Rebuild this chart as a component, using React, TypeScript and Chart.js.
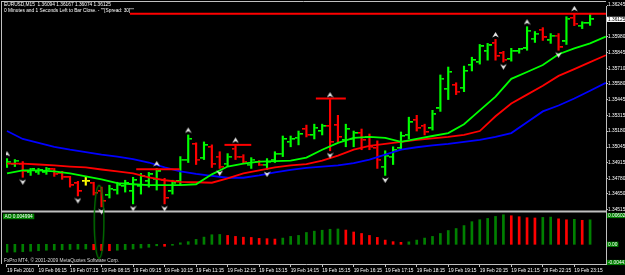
import React, { useEffect, useRef } from "react";
import { Chart, registerables } from "chart.js";
Chart.register(...registerables);

const SYMBOL = "EURUSD,M15";
const COMMENT = '0 Minutes and 1 Seconds Left to Bar Close. - ""[Spread: 30]""';
const COPYRIGHT = "FxPro MT4, \u00a9 2001-2009 MetaQuotes Software Corp.";

// M15 bars, 19 Feb 2010 05:15 .. 23:45
const opens = [
  1.3489, 1.34906, 1.34906, 1.34831, 1.34831, 1.34831, 1.34856, 1.34823, 1.3479, 1.3474,
  1.34756, 1.3474, 1.34673, 1.3464, 1.34682, 1.34715, 1.34673, 1.34715, 1.34756, 1.34773,
  1.34765, 1.34673, 1.34756, 1.3494, 1.35073, 1.34956, 1.35048, 1.34965, 1.34906, 1.35031,
  1.34965, 1.34898, 1.34923, 1.34898, 1.3494, 1.3499, 1.35089, 1.35123, 1.35198, 1.35148,
  1.35181, 1.35223, 1.35231, 1.35106, 1.35114, 1.35164, 1.35131, 1.35039, 1.34881, 1.34965,
  1.35039, 1.35148, 1.35273, 1.35223, 1.35206, 1.35372, 1.35539, 1.35572, 1.35547, 1.35739,
  1.35764, 1.35855, 1.35922, 1.35839, 1.35789, 1.35855, 1.3588, 1.35963, 1.36038, 1.35947,
  1.35988, 1.35938, 1.36138, 1.36072, 1.36094,
];
const highs = [
  1.34948, 1.3494, 1.34923, 1.34865, 1.34865, 1.34873, 1.34865, 1.3484, 1.34798, 1.34756,
  1.3479, 1.34748, 1.34707, 1.34723, 1.34748, 1.34765, 1.3479, 1.34823, 1.34831, 1.34865,
  1.34781, 1.34765, 1.34965, 1.35148, 1.35081, 1.35089, 1.35064, 1.35006, 1.3499, 1.35064,
  1.34981, 1.34956, 1.34931, 1.34948, 1.35006, 1.35139, 1.35139, 1.35181, 1.35231, 1.35239,
  1.35239, 1.35447, 1.35314, 1.35239, 1.35181, 1.35198, 1.35156, 1.35098, 1.35014, 1.35048,
  1.35173, 1.35298, 1.35314, 1.35239, 1.35356, 1.35655, 1.35722, 1.35589, 1.3573, 1.35805,
  1.35913, 1.35922, 1.35955, 1.35855, 1.3588, 1.3588, 1.36063, 1.36022, 1.36055, 1.36005,
  1.36005, 1.36147, 1.36176, 1.36105, 1.36167,
];
const lows = [
  1.34873, 1.34881, 1.3479, 1.34806, 1.34815, 1.34815, 1.34798, 1.34773, 1.34707, 1.34632,
  1.34723, 1.3464, 1.3454, 1.34615, 1.34648, 1.34665, 1.34565, 1.34648, 1.34707, 1.34682,
  1.34565, 1.34648, 1.34723, 1.34915, 1.34898, 1.3494, 1.34873, 1.34865, 1.34881, 1.3494,
  1.34906, 1.34865, 1.3489, 1.34856, 1.34915, 1.34965, 1.35048, 1.35064, 1.35131, 1.35114,
  1.35148, 1.35014, 1.35089, 1.35048, 1.35048, 1.35023, 1.35023, 1.34865, 1.34806, 1.34898,
  1.35023, 1.35114, 1.35181, 1.35148, 1.35189, 1.35347, 1.35447, 1.35489, 1.35514, 1.35689,
  1.35747, 1.3578, 1.3578, 1.35764, 1.35772, 1.35839, 1.35864, 1.3593, 1.35947, 1.35922,
  1.35864, 1.35913, 1.36072, 1.36047, 1.36074,
];
const closes = [
  1.34923, 1.34931, 1.3484, 1.34856, 1.34848, 1.34856, 1.34815, 1.3479, 1.34723, 1.34673,
  1.34756, 1.34657, 1.3459, 1.3469, 1.34723, 1.3474, 1.34765, 1.34798, 1.34815, 1.3484,
  1.34615, 1.3474, 1.3494, 1.35114, 1.3494, 1.35064, 1.34906, 1.34881, 1.34965, 1.34965,
  1.34923, 1.3494, 1.34898, 1.34923, 1.3499, 1.35114, 1.35114, 1.35156, 1.35148, 1.35206,
  1.35223, 1.35089, 1.35131, 1.35198, 1.35164, 1.35106, 1.35048, 1.3494, 1.34973, 1.35023,
  1.35139, 1.35256, 1.35206, 1.35173, 1.35322, 1.35622, 1.3568, 1.35514, 1.35689, 1.3578,
  1.35897, 1.35905, 1.35814, 1.3578, 1.35855, 1.35872, 1.3603, 1.36005, 1.35972, 1.35988,
  1.35889, 1.3613, 1.36088, 1.36094, 1.36125,
];

// Awesome Oscillator
const aoValues = [
  -0.00161, -0.00157, -0.00151, -0.00141, -0.00131, -0.00121, -0.00115, -0.00111, -0.00105, -0.001,
  -0.00096, -0.00111, -0.00125, -0.00131, -0.00121, -0.00107, -0.00096, -0.00076, -0.0006, -0.0003,
  -0.0004, -0.0002, 0.0003, 0.00054, 0.001, 0.00147, 0.00195, 0.00201, 0.00181, 0.00161,
  0.00145, 0.0014, 0.00121, 0.00115, 0.00107, 0.00127, 0.00161, 0.00181, 0.00241, 0.00268,
  0.00287, 0.00307, 0.00313, 0.00291, 0.00251, 0.00221, 0.00181, 0.00141, 0.00086, 0.00054,
  0.0004, 0.0005, 0.00086, 0.00127, 0.00161, 0.00221, 0.00281, 0.00322, 0.00382, 0.00462,
  0.00502, 0.00528, 0.00569, 0.006029, 0.00583, 0.00563, 0.00543, 0.00537, 0.00549, 0.00555,
  0.0052, 0.005, 0.0051, 0.0049, 0.004994,
];

// Alligator lines (shifted forward), sampled every second bar
const maIndex = [
  0, 2, 4, 6, 8, 10, 12, 14, 16, 18, 20, 22, 24, 26, 28, 30, 32, 34, 36, 38,
  40, 42, 44, 46, 48, 50, 52, 54, 56, 58, 60, 62, 64, 66, 68, 70, 72, 74, 76,
];
const lipsGreen = [
  1.34823, 1.34848, 1.34848, 1.3484, 1.34823, 1.34798, 1.34773, 1.3474, 1.34731, 1.34723,
  1.34723, 1.34723, 1.34731, 1.34815, 1.34881, 1.34906, 1.34923, 1.34927, 1.34931, 1.34956,
  1.35023, 1.35081, 1.35123, 1.35131, 1.35123, 1.35089, 1.35114, 1.35139, 1.35164, 1.35239,
  1.35356, 1.35472, 1.35622, 1.3568, 1.35739, 1.3583, 1.3588, 1.35922, 1.3598,
];
const teethRed = [
  1.34906, 1.34906, 1.34898, 1.3489, 1.34881, 1.34873, 1.34856, 1.3484, 1.34823, 1.3479,
  1.34765, 1.34752, 1.34748, 1.34744, 1.34781, 1.34823, 1.34848, 1.34873, 1.3489, 1.34902,
  1.34931, 1.34973, 1.35023, 1.35056, 1.35073, 1.35089, 1.35106, 1.35119, 1.35131, 1.35148,
  1.35181, 1.35306, 1.35414, 1.35489, 1.35564, 1.35647, 1.35705, 1.35764, 1.35822,
];
const jawBlue = [
  1.35181, 1.35114, 1.35081, 1.35048, 1.35023, 1.35002, 1.34981, 1.34965, 1.34944, 1.34915,
  1.34873, 1.3484, 1.34819, 1.34802, 1.34786, 1.34786, 1.34806, 1.34831, 1.34852, 1.34869,
  1.34881, 1.3489, 1.3491, 1.3494, 1.34981, 1.35023, 1.35044, 1.3506, 1.35073, 1.35089,
  1.35106, 1.35131, 1.35164, 1.35256, 1.35347, 1.35397, 1.35456, 1.35522, 1.35589,
];

const fractalUpIdx = [0, 19, 23, 29, 41, 62, 66, 72];
const fractalDownIdx = [2, 9, 12, 16, 20, 27, 33, 41, 48, 63, 70];

// red horizontal level lines
const levelPrices = [1.36172, 1.34859, 1.35064, 1.35456];
const levelFrom = [15.6, 16.4, 27.6, 39.2];
const levelTo = [76.5, 21.9, 31.0, 43.0];

const timeTickIdx = [0, 4, 8, 12, 16, 20, 24, 28, 32, 36, 40, 44, 48, 52, 56, 60, 64, 68, 72];
const timeLabels = [
  "19 Feb 2010", "19 Feb 06:15", "19 Feb 07:15", "19 Feb 08:15", "19 Feb 09:15",
  "19 Feb 10:15", "19 Feb 11:15", "19 Feb 12:15", "19 Feb 13:15", "19 Feb 14:15",
  "19 Feb 15:15", "19 Feb 16:15", "19 Feb 17:15", "19 Feb 18:15", "19 Feb 19:15",
  "19 Feb 20:15", "19 Feb 21:15", "19 Feb 22:15", "19 Feb 23:15",
];
const priceTicks = [
  1.36245, 1.36115, 1.3598, 1.35845, 1.3571, 1.3558, 1.35445, 1.35315, 1.3518, 1.35045,
  1.34915, 1.3478, 1.3465, 1.34515,
];
const priceTickLabels = [
  "1.36245", "1.36115", "1.35980", "1.35845", "1.35710", "1.35580", "1.35445", "1.35315",
  "1.35180", "1.35045", "1.34915", "1.34780", "1.34650", "1.34515",
];
const aoAxisValues = [0.006029, 0, -0.004411];
const aoAxisLabels = ["0.006029", "0.00", "-0.004411"];

const ellipseX = 11.7;
const ellipseAO = 0.0046;

// axis ranges (layout)
const X_MIN = -0.126;
const X_MAX = 76.02;
const PRICE_MIN = 1.34057;
const PRICE_MAX = 1.36238;
const AO_MIN = -0.004019;
const AO_MAX = 0.048633;
const SPLIT_Y = 211.5;

const FONT = "Liberation Sans";
const UP = "#00ff00";
const DOWN = "#ff0000";
const DOJI = "#ffff00";
const FRAME = "#c0c0c0";

function barColor(i: number) {
  return closes[i] > opens[i] ? UP : closes[i] < opens[i] ? DOWN : DOJI;
}

function tickImg(color: string, side: "left" | "right") {
  const c = document.createElement("canvas");
  c.width = 8;
  c.height = 2;
  const g = c.getContext("2d")!;
  g.fillStyle = color;
  if (side === "left") g.fillRect(0, 0, 3, 1.6);
  else g.fillRect(5, 0, 3, 1.6);
  return c;
}

function arrowImg(up: boolean) {
  const c = document.createElement("canvas");
  c.width = 7;
  c.height = 17;
  const g = c.getContext("2d")!;
  g.fillStyle = "#e6e6e6";
  g.beginPath();
  if (up) {
    g.moveTo(3.5, 1);
    g.lineTo(6.8, 6.5);
    g.lineTo(3.5, 4.8);
    g.lineTo(0.2, 6.5);
  } else {
    g.moveTo(3.5, 16);
    g.lineTo(6.8, 10.5);
    g.lineTo(3.5, 12.2);
    g.lineTo(0.2, 10.5);
  }
  g.closePath();
  g.fill();
  return c;
}

function ellipseImg() {
  const c = document.createElement("canvas");
  c.width = 12;
  c.height = 78;
  const g = c.getContext("2d")!;
  g.strokeStyle = "#007a00";
  g.lineWidth = 1.3;
  g.beginPath();
  g.ellipse(6, 39, 4.8, 36.5, 0, 0, Math.PI * 2);
  g.stroke();
  return c;
}

const mt4Plugin = {
  id: "mt4",
  beforeDraw(chart: any) {
    const ctx = chart.ctx;
    ctx.save();
    ctx.fillStyle = "#000";
    ctx.fillRect(0, 0, chart.width, chart.height);
    ctx.restore();
  },
  beforeDatasetsDraw(chart: any) {
    const { ctx, chartArea } = chart;
    ctx.save();
    ctx.strokeStyle = FRAME;
    ctx.lineWidth = 1;
    ctx.beginPath();
    ctx.moveTo(1.5, 1);
    ctx.lineTo(1.5, chartArea.bottom);
    ctx.moveTo(1, 1.5);
    ctx.lineTo(chartArea.right, 1.5);
    ctx.stroke();
    ctx.lineWidth = 2;
    ctx.beginPath();
    ctx.moveTo(1, SPLIT_Y);
    ctx.lineTo(chartArea.right, SPLIT_Y);
    ctx.stroke();
    ctx.restore();
  },
  afterDraw(chart: any) {
    const { ctx, chartArea } = chart;
    const ys = chart.scales.y;
    const ao = chart.scales.ao;
    const last = closes.length - 1;
    ctx.save();
    ctx.font = `4.8px "${FONT}"`;
    ctx.textBaseline = "middle";
    ctx.textAlign = "left";
    // header
    ctx.fillStyle = "#ffffff";
    ctx.fillText(
      `${SYMBOL}  ${opens[last].toFixed(5)} ${highs[last].toFixed(5)} ${lows[last].toFixed(5)} ${closes[last].toFixed(5)}`,
      4,
      5
    );
    ctx.fillText(COMMENT, 4, 10.5);
    // current price box
    const cy = ys.getPixelForValue(closes[last]);
    ctx.fillStyle = "#ffffff";
    ctx.fillRect(chartArea.right + 1, cy - 2.6, 20, 5.2);
    ctx.fillStyle = "#000000";
    ctx.fillText(closes[last].toFixed(5), chartArea.right + 2, cy);
    // AO indicator label
    const aoText = `AO ${aoValues[last].toFixed(6)}`;
    const tw = ctx.measureText(aoText).width;
    ctx.fillStyle = "#008000";
    ctx.fillRect(3, SPLIT_Y + 2.2, tw + 3, 5.5);
    ctx.fillStyle = "#ffffff";
    ctx.fillText(aoText, 4.5, SPLIT_Y + 5);
    // AO axis labels
    aoAxisValues.forEach((v, k) => {
      let py = ao.getPixelForValue(v);
      py = Math.max(SPLIT_Y + 4, Math.min(chartArea.bottom - 1.5, py));
      const w = ctx.measureText(aoAxisLabels[k]).width;
      ctx.fillStyle = "#008000";
      ctx.fillRect(chartArea.right + 1, py - 2.6, w + 2, 5.2);
      ctx.fillStyle = "#ffffff";
      ctx.fillText(aoAxisLabels[k], chartArea.right + 2, py);
    });
    // copyright
    ctx.fillStyle = "#d8d8d8";
    ctx.fillText(COPYRIGHT, 4, chartArea.bottom - 3);
    ctx.restore();
  },
};

export default function App() {
  const ref = useRef<HTMLCanvasElement>(null);
  useEffect(() => {
    const upImg = arrowImg(true);
    const downImg = arrowImg(false);
    const ellImg = ellipseImg();
    const openImgs: Record<string, HTMLCanvasElement> = {
      [UP]: tickImg(UP, "left"),
      [DOWN]: tickImg(DOWN, "left"),
      [DOJI]: tickImg(DOJI, "left"),
    };
    const closeImgs: Record<string, HTMLCanvasElement> = {
      [UP]: tickImg(UP, "right"),
      [DOWN]: tickImg(DOWN, "right"),
      [DOJI]: tickImg(DOJI, "right"),
    };
    const barColors = closes.map((_, i) => barColor(i));
    const aoColors = aoValues.map((v, i) => (i === 0 || v >= aoValues[i - 1] ? "#008000" : "#ff0000"));

    const datasets: any[] = [
      {
        type: "bar",
        data: highs.map((h, i) => ({ x: i, y: [lows[i], h] })),
        backgroundColor: barColors,
        barThickness: 1.5,
        grouped: false,
        borderWidth: 0,
        yAxisID: "y",
        order: 10,
      },
      {
        type: "line",
        showLine: false,
        data: opens.map((o, i) => ({ x: i, y: o })),
        pointStyle: (c: any) => openImgs[barColors[c.dataIndex]],
        pointRadius: 4,
        yAxisID: "y",
        order: 9,
      },
      {
        type: "line",
        showLine: false,
        data: closes.map((o, i) => ({ x: i, y: o })),
        pointStyle: (c: any) => closeImgs[barColors[c.dataIndex]],
        pointRadius: 4,
        yAxisID: "y",
        order: 9,
      },
      {
        type: "bar",
        data: aoValues.map((v, i) => ({ x: i, y: v })),
        backgroundColor: aoColors,
        barThickness: 2,
        grouped: false,
        borderWidth: 0,
        yAxisID: "ao",
        order: 8,
      },
      ...[
        { d: jawBlue, c: "#0000ff" },
        { d: teethRed, c: "#ff0000" },
        { d: lipsGreen, c: "#00ff00" },
      ].map((s, k) => ({
        type: "line",
        data: maIndex.map((x, j) => ({ x, y: s.d[j] })),
        borderColor: s.c,
        borderWidth: 1.8,
        pointRadius: 0,
        tension: 0,
        yAxisID: "y",
        order: 7 - k,
      })),
      ...levelPrices.map((p, k) => ({
        type: "line",
        data: [
          { x: levelFrom[k], y: p },
          { x: levelTo[k], y: p },
        ],
        borderColor: "#ff0000",
        borderWidth: 2,
        pointRadius: 0,
        yAxisID: "y",
        order: 3,
      })),
      {
        type: "line",
        showLine: false,
        data: fractalUpIdx.map((i) => ({ x: i, y: highs[i] })),
        pointStyle: upImg,
        pointRadius: 4,
        yAxisID: "y",
        order: 2,
      },
      {
        type: "line",
        showLine: false,
        data: fractalDownIdx.map((i) => ({ x: i, y: lows[i] })),
        pointStyle: downImg,
        pointRadius: 4,
        yAxisID: "y",
        order: 2,
      },
      {
        type: "line",
        showLine: false,
        data: [{ x: ellipseX, y: ellipseAO }],
        pointStyle: ellImg,
        pointRadius: 5,
        yAxisID: "ao",
        order: 1,
      },
    ];

    const chart = new Chart(ref.current!, {
      type: "bar",
      data: { datasets },
      plugins: [mt4Plugin],
      options: {
        responsive: false,
        animation: false,
        devicePixelRatio: 1,
        events: [],
        layout: { padding: { left: 2, top: 2, right: 0, bottom: 0 } },
        plugins: { legend: { display: false }, tooltip: { enabled: false } },
        scales: {
          x: {
            type: "linear",
            min: X_MIN,
            max: X_MAX,
            offset: false,
            afterBuildTicks: (s: any) => {
              s.ticks = timeTickIdx.map((v) => ({ value: v }));
            },
            afterFit: (s: any) => {
              s.height = 11;
            },
            ticks: {
              autoSkip: false,
              maxRotation: 0,
              minRotation: 0,
              align: "start",
              color: "#ffffff",
              padding: 1,
              font: { family: FONT, size: 4.8 },
              callback: (_v: any, i: number) => timeLabels[i],
            },
            grid: { drawOnChartArea: false, color: FRAME, tickLength: 3, offset: false },
            border: { color: FRAME, width: 1 },
          },
          y: {
            type: "linear",
            position: "right",
            min: PRICE_MIN,
            max: PRICE_MAX,
            afterBuildTicks: (s: any) => {
              s.ticks = priceTicks.map((v) => ({ value: v }));
            },
            afterFit: (s: any) => {
              s.width = 19;
            },
            ticks: {
              autoSkip: false,
              color: "#ffffff",
              padding: 0,
              font: { family: FONT, size: 4.8 },
              callback: (_v: any, i: number) => priceTickLabels[i],
            },
            grid: { drawOnChartArea: false, color: FRAME, tickLength: 2 },
            border: { color: FRAME, width: 1 },
          },
          ao: {
            type: "linear",
            display: false,
            min: AO_MIN,
            max: AO_MAX,
          },
        },
      } as any,
    });
    return () => chart.destroy();
  }, []);

  return (
    <div style={{ position: "absolute", left: 0, top: 0, width: 625, height: 275, background: "#000" }}>
      <canvas ref={ref} width={625} height={275} style={{ display: "block", width: 625, height: 275 }} />
    </div>
  );
}
